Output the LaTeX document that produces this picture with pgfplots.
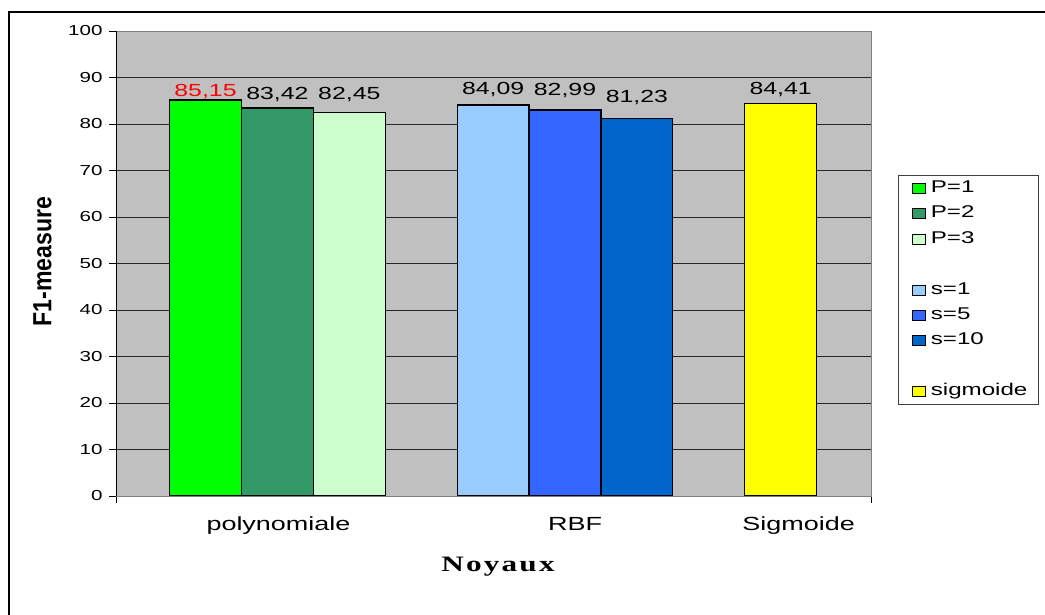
\documentclass[border=0pt]{standalone}
\usepackage{pgfplots}
\pgfplotsset{compat=1.18}
\usepackage{fontspec}
\setmainfont{Liberation Sans}[FakeStretch=1.42]
\newfontfamily\ylabfont{Liberation Sans}[FakeStretch=1.1]
\newfontfamily\noyfont{Liberation Serif}[FakeStretch=1.42, LetterSpace=10]

\definecolor{plotgray}{HTML}{C0C0C0}
\definecolor{cPone}{HTML}{00FF00}
\definecolor{cPtwo}{HTML}{339966}
\definecolor{cPthree}{HTML}{CCFFCC}
\definecolor{cSone}{HTML}{99CCFF}
\definecolor{cSfive}{HTML}{3366FF}
\definecolor{cSten}{HTML}{0066CC}
\definecolor{cSig}{HTML}{FFFF00}

\pgfplotsset{
  kbar/.style={ybar, bar width=1, bar shift=0pt, draw=black, line width=1.2pt,
    nodes near coords,
    nodes near coords style={font=\fontsize{17.5}{20}\selectfont, anchor=base, yshift=#1, text=black,
      /pgf/number format/fixed, /pgf/number format/fixed zerofill,
      /pgf/number format/precision=2, /pgf/number format/use comma,
      /pgf/number format/assume math mode=true},
  },
}

\begin{document}
\begin{tikzpicture}
\useasboundingbox (0pt,0pt) rectangle (1045pt,615pt);
\draw[line width=1.3pt] (9pt,-5pt) -- (9pt,603pt) -- (1050pt,603pt);
\begin{axis}[
  at={(116pt,119pt)}, anchor=south west,
  scale only axis, width=755pt, height=465pt,
  xmin=-1.245, xmax=9.256, ymin=0, ymax=100,
  axis background/.style={fill=plotgray},
  axis line style={draw=black!50, line width=0.8pt},
  ytick={0,10,...,100},
  ymajorgrids, grid style={black!85, line width=0.8pt},
  xtick={-1.245,9.256}, xticklabels={,},
  extra x ticks={1.015,5.14,8.25},
  extra x tick labels={polynomiale,RBF,Sigmoide},
  extra x tick style={major tick length=0pt,
    tick label style={font=\fontsize{19}{22}\selectfont, anchor=base, yshift=-35pt}},
  tick pos=left,
  tick align=outside, major tick length=7pt,
  tick style={black, line width=0.8pt},
  /pgf/number format/assume math mode=true,
  yticklabel style={font=\fontsize{14.5}{16}\selectfont, xshift=-3pt},
  legend image code/.code={\draw[#1, line width=0.8pt] (4pt,-5pt) rectangle (17pt,5pt);},
  legend cell align=left,
  legend style={at={(1.0358,0.6903)}, anchor=north west,
    draw=black!75, line width=0.8pt, fill=white,
    font=\fontsize{17}{19}\selectfont,
    inner xsep=10pt, inner ysep=5pt, row sep=9.4pt,
    /tikz/every odd column/.append style={column sep=4pt},
    nodes={inner sep=1pt, text height=11pt, text depth=3pt}},
]
\addplot[kbar=3.3pt, fill=cPone, nodes near coords style={text=red}] coordinates {(0,85.15)};
\addlegendentry{P=1}
\addplot[kbar=9pt, fill=cPtwo] coordinates {(1,83.42)};
\addlegendentry{P=2}
\addplot[kbar=13.3pt, fill=cPthree] coordinates {(2,82.45)};
\addlegendentry{P=3}
\addlegendimage{empty legend}\addlegendentry{}
\addplot[kbar=10pt, fill=cSone] coordinates {(4,84.09)};
\addlegendentry{s=1}
\addplot[kbar=15pt, fill=cSfive] coordinates {(5,82.99)};
\addlegendentry{s=5}
\addplot[kbar=15.6pt, fill=cSten] coordinates {(6,81.23)};
\addlegendentry{s=10}
\addlegendimage{empty legend}\addlegendentry{}
\addplot[kbar=8.5pt, fill=cSig] coordinates {(8,84.41)};
\addlegendentry{sigmoide}
% dark left and bottom axis lines over the grey frame
\draw[black, line width=0.8pt] (rel axis cs:0,1) -- (rel axis cs:0,0) -- (rel axis cs:1,0);
\end{axis}
\node[rotate=90, font=\ylabfont\bfseries\fontsize{21}{24}\selectfont] at (42.5pt,353.5pt) {\scalebox{1}[1.25]{F1-measure}};
\node[font=\noyfont\bfseries\fontsize{22}{24}\selectfont, anchor=base] at (498pt,43pt) {Noyaux};
\end{tikzpicture}
\end{document}
